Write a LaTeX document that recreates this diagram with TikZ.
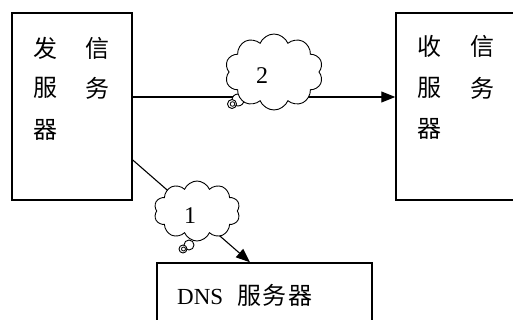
\documentclass[tikz,border=0pt]{standalone}
\usepackage{fontspec}
\setmainfont{Liberation Serif}
\newfontfamily\cjk{Noto Sans CJK SC}
\usetikzlibrary{shapes.symbols,arrows.meta}
\begin{document}
\begin{tikzpicture}[x=1pt,y=-1pt,
  box/.style={draw,line width=1.5pt,rectangle,inner sep=0pt},
  ch/.style={inner sep=0pt,font=\cjk\fontsize{24}{26}\selectfont},
  lab/.style={inner sep=0pt,font=\fontsize{24}{26}\selectfont},
  conn/.style={line width=1.1pt},
  arr/.style={conn,-{Triangle[length=14pt,width=11pt]}},
  bubble/.style={cloud,draw,fill=white,line width=0.9pt,cloud puffs=10,cloud puff arc=135,
    cloud ignores aspect,inner sep=0pt},
  dot/.style={draw,fill=white,line width=0.9pt}]
\clip (0,0) rectangle (513,320);
\fill[white] (0,0) rectangle (513,320);
% boxes
\node[box,minimum width=120pt,minimum height=187pt] (send) at (72,106.5) {};
\node[box,minimum width=134pt,minimum height=187pt] (recv) at (463,106.5) {};
\node[box,minimum width=215pt,minimum height=80pt] (dns) at (264.5,303) {};
% box texts
\node[ch] (s1) at (45,48) {发};
\node[ch] (s2) at (97,48) {信};
\node[ch] (s3) at (45,88) {服};
\node[ch] (s4) at (97,88) {务};
\node[ch] (s5) at (45,130) {器};
\node[ch] (r1) at (429,46) {收};
\node[ch] (r2) at (482,46) {信};
\node[ch] (r3) at (429,88) {服};
\node[ch] (r4) at (482,88) {务};
\node[ch] (r5) at (429,129) {器};
\node[lab,anchor=west,font=\fontsize{23}{26}\selectfont] (dnst) at (177,295) {DNS\hspace{14pt}{\cjk\fontsize{24}{26}\selectfont 服\hspace{1.5pt}务\hspace{1.5pt}器}};
% connectors
\draw[arr] (send.east |- 0,97) -- (recv.west |- 0,97);
\draw[arr] (send.east |- 0,160) -- (dns.north -| 250,0);
% cloud 2
\draw[dot] (238,100) circle (6);
\node[bubble,minimum width=98pt,minimum height=76pt] (c2) at (274,72) {};
\draw[dot] (232,104) circle (4.5);
\draw[line width=0.8pt] (232.5,104) circle (2.3);
\node[lab] (n2) at (262,76) {2};
% cloud 1
\draw[dot] (189,245) circle (5);
\node[bubble,minimum width=86pt,minimum height=60pt] (c1) at (197,211) {};
\draw[dot] (183,249) circle (4);
\draw[line width=0.8pt] (183.5,249) circle (2);
\node[lab] (n1) at (190,216) {1};
\end{tikzpicture}
\end{document}
